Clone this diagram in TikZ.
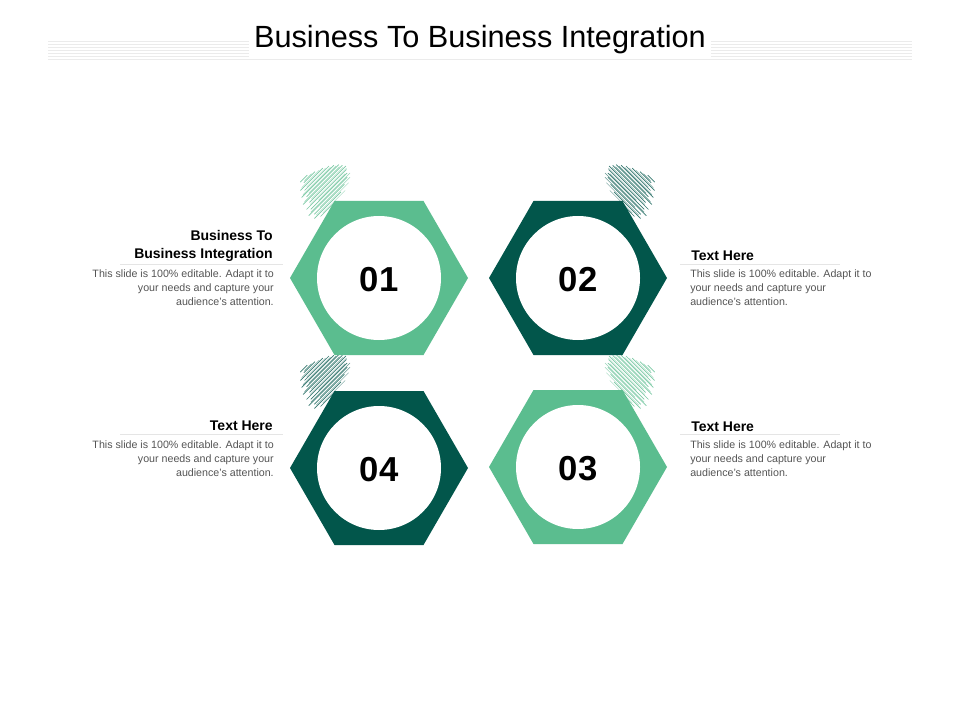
\documentclass[tikz,border=0pt]{standalone}
\usepackage{fontspec}
\setmainfont{Liberation Sans}
\definecolor{lg}{HTML}{5BBD8F}
\definecolor{dg}{HTML}{02564B}
\definecolor{bodyg}{HTML}{555555}
\begin{document}
\begin{tikzpicture}[x=0.75pt,y=-0.75pt,
  hexa/.style={fill=#1},
  num/.style={font=\fontsize{26}{28}\selectfont\bfseries,text=black},
  head/.style={font=\fontsize{10.5}{14}\selectfont\bfseries,text=black,inner sep=0pt},
  body/.style={font=\fontsize{8}{10.5}\selectfont,text=bodyg,inner sep=0pt},
  sep/.style={draw=black!10,line width=0.6pt}]
\useasboundingbox (0,0) rectangle (960,720);
\fill[white] (0,0) rectangle (960,720);
% title lines
\foreach \yy in {41,44,...,60} \draw[black!8,line width=0.4pt] (48,\yy) -- (912,\yy);
\node[fill=white,inner xsep=4pt,inner ysep=2pt,font=\fontsize{23}{26}\selectfont] (title) at (480,40) {Business To Business Integration};
% scribbles
\newcommand{\scrib}[4]{% x y color flip
  \begin{scope}[shift={(#1,#2)},xscale=#4]
  \foreach \i/\a/\b in {0/8/30,3/2/40,6/5/48,9/0/55,12/6/58,15/3/60,18/10/62,21/4/60,24/12/58,27/8/54,30/15/50,33/12/44,36/20/36,39/18/28}
    \draw[#3,line width=0.5pt,opacity=0.8] ({-\i*0.7+\a*0.7},{-\i*0.7-\a*0.7}) -- ({-\i*0.7+\b*0.7},{-\i*0.7-\b*0.7});
  \foreach \i/\a/\b in {1/12/44,4/6/52,7/14/57,10/4/60,13/18/56,16/9/61,19/14/59,22/7/57,25/16/55,28/11/50,31/19/46,34/15/40,37/22/32}
    \draw[#3,line width=0.35pt,opacity=0.6] ({-\i*0.7+\a*0.7},{-\i*0.7-\a*0.7}) -- ({-\i*0.7+\b*0.7},{-\i*0.7-\b*0.7});
  \end{scope}}
\scrib{315}{222}{lg}{1}
\scrib{640}{222}{dg}{-1}
\scrib{315}{412}{dg}{1}
\scrib{640}{412}{lg}{-1}
% hexagons
\foreach \n/\cx/\cy/\c in {h1/379/278/lg,h2/578/278/dg,h4/379/468/dg,h3/578/467/lg}{
  \fill[\c] (\cx+89,\cy) -- (\cx+44.5,\cy-77) -- (\cx-44.5,\cy-77) -- (\cx-89,\cy) -- (\cx-44.5,\cy+77) -- (\cx+44.5,\cy+77) -- cycle;
  \fill[white] (\cx,\cy) circle[radius=62];
}
\node[num] (n1) at (379,280) {01};
\node[num] (n2) at (578,280) {02};
\node[num] (n4) at (379,470) {04};
\node[num] (n3) at (578,469) {03};
% left texts
\node[head,anchor=south east,align=right] (t1) at (273,262) {Business To\\Business Integration};
\draw[sep] (120,264) -- (283,264);
\node[body,anchor=north east,align=right] (b1) at (274,270) {This slide is 100\% editable. Adapt it to\\your needs and capture your\\audience's attention.};
\node[head,anchor=south east] (t4) at (273,431) {Text Here};
\draw[sep] (120,434) -- (283,434);
\node[body,anchor=north east,align=right] (b4) at (274,441) {This slide is 100\% editable. Adapt it to\\your needs and capture your\\audience's attention.};
% right texts
\node[head,anchor=south west] (t2) at (691,261) {Text Here};
\draw[sep] (680,264) -- (840,264);
\node[body,anchor=north west,align=left] (b2) at (690,270) {This slide is 100\% editable. Adapt it to\\your needs and capture your\\audience's attention.};
\node[head,anchor=south west] (t3) at (691,432) {Text Here};
\draw[sep] (680,434) -- (840,434);
\node[body,anchor=north west,align=left] (b3) at (690,441) {This slide is 100\% editable. Adapt it to\\your needs and capture your\\audience's attention.};
\end{tikzpicture}
\end{document}
